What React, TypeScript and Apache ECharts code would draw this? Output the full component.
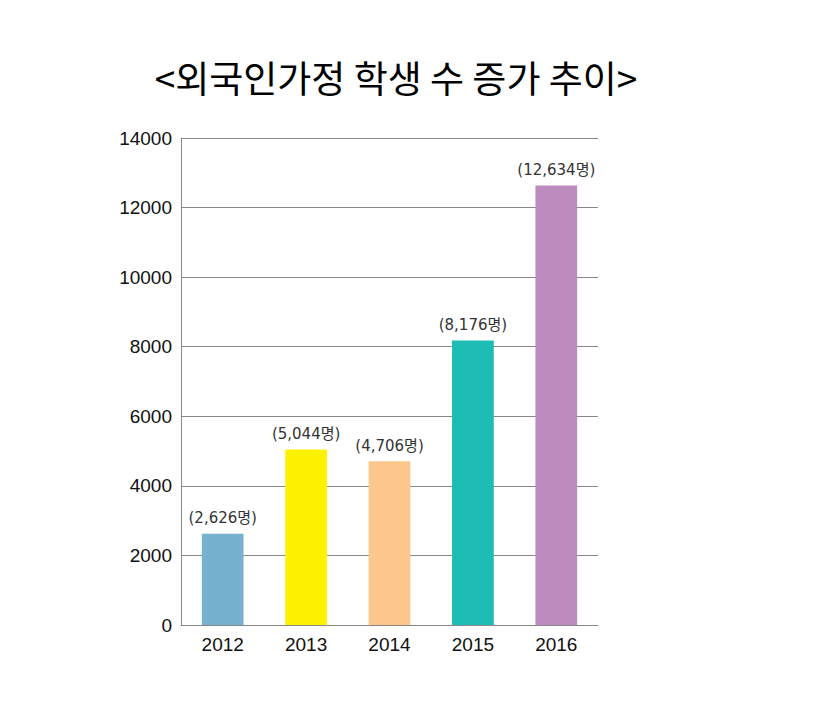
import React, { useEffect, useRef } from "react";
import * as echarts from "echarts";

const title = "<외국인가정 학생 수 증가 추이>";
const years = ["2012", "2013", "2014", "2015", "2016"];
const students = [2626, 5044, 4706, 8176, 12634];
const colors = ["#76B1D0", "#FFF200", "#FDC78B", "#1DBDB5", "#BC8BBE"];
const yTicks = { min: 0, max: 14000, interval: 2000 };

export default function App() {
  const ref = useRef<HTMLDivElement>(null);
  useEffect(() => {
    if (!ref.current) return;
    const chart = echarts.init(ref.current, undefined, { renderer: "svg" });
    chart.setOption({
      animation: false,
      backgroundColor: "#ffffff",
      title: {
        text: title,
        left: 391,
        textAlign: "center",
        top: 53,
        textStyle: {
          fontFamily: "Noto Sans CJK KR",
          fontSize: 37,
          fontWeight: "normal",
          color: "#000",
        },
      },
      grid: { left: 181, right: 229, top: 138, bottom: 84, containLabel: false },
      xAxis: {
        type: "category",
        data: years,
        axisLine: { lineStyle: { color: "#888", width: 1 } },
        axisTick: { show: false },
        axisLabel: {
          fontFamily: "Liberation Sans, Arial, sans-serif",
          fontSize: 19,
          color: "#111",
          margin: 10,
        },
      },
      yAxis: {
        type: "value",
        min: yTicks.min,
        max: yTicks.max,
        interval: yTicks.interval,
        axisLine: { show: true, lineStyle: { color: "#888", width: 1 } },
        axisTick: { show: false },
        splitLine: { lineStyle: { color: "#888", width: 1 } },
        axisLabel: {
          fontFamily: "Liberation Sans, Arial, sans-serif",
          fontSize: 19,
          color: "#111",
          margin: 9,
          formatter: (v: number) => String(v),
        },
      },
      series: [
        {
          type: "bar",
          barWidth: "50%",
          data: students.map((v, i) => ({ value: v, itemStyle: { color: colors[i] } })),
          label: {
            show: true,
            position: "top",
            distance: 8,
            fontFamily: "DejaVu Sans, Noto Sans CJK KR",
            fontSize: 15,
            color: "#333",
            formatter: (p: any) => "(" + Number(p.value).toLocaleString("en-US") + "명)",
          },
        },
      ],
    });
    return () => chart.dispose();
  }, []);
  return (
    <div
      ref={ref}
      style={{ position: "fixed", left: 0, top: 0, width: 827, height: 709 }}
    />
  );
}
